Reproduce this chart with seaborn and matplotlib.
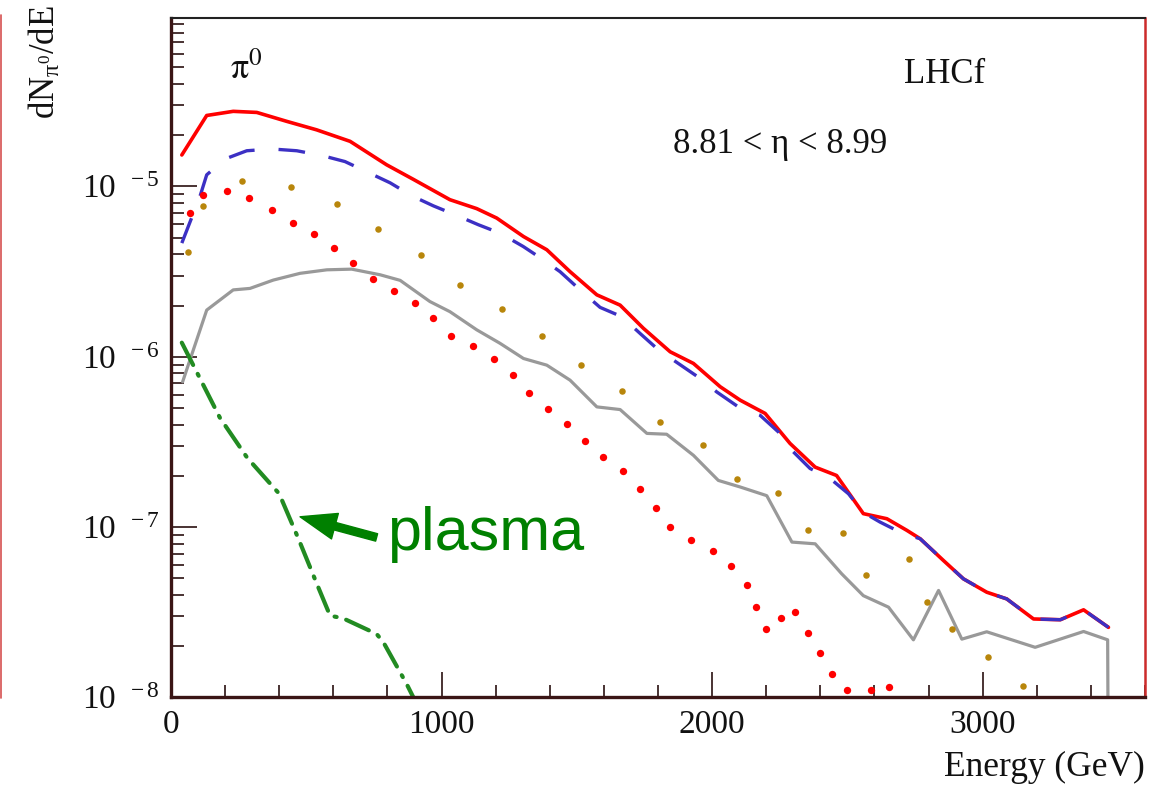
import numpy as np
import matplotlib
matplotlib.use("Agg")
import matplotlib.pyplot as plt
import seaborn as sns
from matplotlib.ticker import FixedLocator, MultipleLocator, LogLocator, NullFormatter, FuncFormatter
from matplotlib.lines import Line2D

# ---------------- data ----------------
# total (red solid)
total_E = [40, 132, 230, 317, 428, 538, 662, 797, 896, 1031, 1130, 1204, 1303, 1389,
           1475, 1574, 1660, 1746, 1845, 1931, 2030, 2104, 2196, 2288, 2381, 2460,
           2559, 2646, 2720, 2769, 2855, 2929, 3015, 3089, 3188, 3287, 3373, 3465]
total_val = [1.53e-5, 2.61e-5, 2.76e-5, 2.72e-5, 2.41e-5, 2.15e-5, 1.84e-5, 1.34e-5,
             1.10e-5, 8.36e-6, 7.41e-6, 6.52e-6, 5.08e-6, 4.25e-6, 3.16e-6, 2.31e-6,
             2.01e-6, 1.47e-6, 1.07e-6, 9.14e-7, 6.67e-7, 5.56e-7, 4.65e-7, 3.10e-7,
             2.25e-7, 2.01e-7, 1.20e-7, 1.12e-7, 9.57e-8, 8.55e-8, 6.37e-8, 4.97e-8,
             4.15e-8, 3.79e-8, 2.89e-8, 2.86e-8, 3.27e-8, 2.58e-8]

# blue dashed
blue_E = [40, 107, 132, 200, 280, 372, 465, 557, 643, 723, 810, 890, 970, 1050, 1136,
          1216, 1302, 1376, 1438, 1512, 1586, 1666, 1734, 1801, 1875, 1956, 2017, 2097,
          2177, 2245, 2295, 2362, 2436, 2504, 2559, 2621, 2707, 2769, 2855, 2929, 3015,
          3089, 3188, 3287, 3373, 3465]
blue_val = [4.65e-6, 8.73e-6, 1.17e-5, 1.45e-5, 1.62e-5, 1.66e-5, 1.62e-5, 1.52e-5,
            1.40e-5, 1.22e-5, 1.05e-5, 8.81e-6, 7.69e-6, 6.82e-6, 5.96e-6, 5.32e-6,
            4.44e-6, 3.71e-6, 3.16e-6, 2.47e-6, 1.95e-6, 1.72e-6, 1.37e-6, 1.10e-6,
            9.14e-7, 7.46e-7, 6.22e-7, 5.08e-7, 4.54e-7, 3.62e-7, 2.82e-7, 2.21e-7,
            1.93e-7, 1.57e-7, 1.22e-7, 1.07e-7, 9.14e-8, 8.55e-8, 6.37e-8, 4.97e-8,
            4.15e-8, 3.79e-8, 2.89e-8, 2.86e-8, 3.27e-8, 2.58e-8]

# red dotted
reddot_E = [70, 120, 206, 290, 372, 452, 529, 603, 674, 745, 826, 902, 970, 1035, 1118,
            1195, 1263, 1325, 1395, 1463, 1530, 1596, 1672, 1734, 1793, 1845, 1921, 2003,
            2070, 2128, 2163, 2200, 2254, 2308, 2354, 2399, 2442, 2498, 2587, 2652]
reddot_val = [6.97e-6, 8.93e-6, 9.35e-6, 8.55e-6, 7.29e-6, 6.14e-6, 5.25e-6, 4.38e-6,
              3.57e-6, 2.85e-6, 2.44e-6, 2.06e-6, 1.68e-6, 1.32e-6, 1.16e-6, 9.66e-7,
              7.80e-7, 6.10e-7, 4.97e-7, 4.02e-7, 3.21e-7, 2.58e-7, 2.14e-7, 1.68e-7,
              1.30e-7, 1.00e-7, 8.43e-8, 7.29e-8, 5.90e-8, 4.58e-8, 3.39e-8, 2.52e-8,
              2.93e-8, 3.19e-8, 2.39e-8, 1.82e-8, 1.37e-8, 1.10e-8, 1.10e-8, 1.15e-8]

# gold dotted
gold_E = [63, 119, 261, 442, 613, 766, 923, 1068, 1222, 1373, 1515, 1666, 1808, 1966,
          2091, 2245, 2356, 2483, 2569, 2726, 2794, 2886, 3018, 3149]
gold_val = [4.15e-6, 7.69e-6, 1.07e-5, 9.91e-6, 7.91e-6, 5.64e-6, 3.96e-6, 2.64e-6,
            1.90e-6, 1.33e-6, 8.93e-7, 6.31e-7, 4.15e-7, 3.03e-7, 1.91e-7, 1.58e-7,
            9.68e-8, 9.23e-8, 5.27e-8, 6.46e-8, 3.63e-8, 2.52e-8, 1.73e-8, 1.16e-8]

# grey solid
grey_E = [43, 132, 230, 292, 378, 477, 576, 668, 773, 847, 957, 1031, 1130, 1216, 1303,
          1389, 1475, 1574, 1660, 1759, 1832, 1931, 2023, 2104, 2202, 2295, 2381, 2479,
          2559, 2652, 2744, 2837, 2923, 3015, 3194, 3373, 3462, 3466]
grey_val = [7.13e-7, 1.88e-6, 2.47e-6, 2.52e-6, 2.82e-6, 3.09e-6, 3.24e-6, 3.27e-6,
            3.03e-6, 2.81e-6, 2.11e-6, 1.84e-6, 1.44e-6, 1.20e-6, 9.77e-7, 8.93e-7,
            7.29e-7, 5.08e-7, 4.90e-7, 3.55e-7, 3.51e-7, 2.64e-7, 1.88e-7, 1.72e-7,
            1.53e-7, 8.17e-8, 7.98e-8, 5.32e-8, 3.96e-8, 3.39e-8, 2.18e-8, 4.25e-8,
            2.20e-8, 2.43e-8, 1.97e-8, 2.44e-8, 2.18e-8, 1.0e-9]

# green dash-dot (plasma)
plasma_E = [40, 101, 181, 282, 400, 471, 539, 588, 635, 760, 785, 871, 896, 920]
plasma_val = [1.21e-6, 7.80e-7, 4.38e-7, 2.55e-7, 1.57e-7, 8.55e-8, 4.65e-8, 3.02e-8,
              2.92e-8, 2.36e-8, 2.11e-8, 1.20e-8, 1.00e-8, 7.5e-9]

x_major_ticks = [0, 1000, 2000, 3000]
x_tick_labels = ["0", "1000", "2000", "3000"]

# ---------------- style ----------------
sns.set_style("ticks")
plt.rcParams["font.family"] = ["Liberation Serif", "DejaVu Serif"]
plt.rcParams["mathtext.fontset"] = "stix"
plt.rcParams["axes.unicode_minus"] = False

fig = plt.figure(figsize=(11.68, 7.85), dpi=100)
ax = fig.add_axes([0.1464, 0.1115, 0.8339, 0.8656])
ax.set_yscale("log")

# curves
sns.lineplot(x=grey_E, y=grey_val, ax=ax, color="#999999", linewidth=2.3, sort=False)
sns.scatterplot(x=gold_E, y=gold_val, ax=ax, color="#b8860b", s=22, linewidth=0, zorder=3)
sns.scatterplot(x=reddot_E, y=reddot_val, ax=ax, color="#ff0000", s=28, linewidth=0, zorder=3)
sns.lineplot(x=plasma_E, y=plasma_val, ax=ax, color="#228b22", linewidth=3.0, sort=False,
             linestyle=(0, (6.0, 2.4, 0.5, 2.4)), dash_capstyle="round")
sns.lineplot(x=total_E, y=total_val, ax=ax, color="#ff0000", linewidth=2.6, sort=False)
sns.lineplot(x=blue_E, y=blue_val, ax=ax, color="#3c30c4", linewidth=2.4, sort=False,
             linestyle=(0, (8, 7.2)))

# axes ranges / ticks
ax.set_xlim(0, 3600)
ax.set_ylim(1e-8, 9.75e-5)
ax.xaxis.set_major_locator(FixedLocator(x_major_ticks))
ax.set_xticklabels(x_tick_labels)
ax.xaxis.set_minor_locator(MultipleLocator(200))
ax.yaxis.set_major_locator(LogLocator(base=10, numticks=12))
ax.yaxis.set_minor_locator(LogLocator(base=10, subs=np.arange(2, 10), numticks=12))
ax.yaxis.set_minor_formatter(NullFormatter())
ax.yaxis.set_major_formatter(FuncFormatter(
    lambda v, p: r"$\mathregular{10^{\ \ %d}}$" % int(round(np.log10(v)))))

tick_col = "#2a1010"
ax.tick_params(axis="both", which="both", direction="in", color=tick_col,
               top=False, right=False, labelsize=24, labelcolor="#111111")
ax.tick_params(axis="x", which="major", length=18, width=1.2, pad=9)
ax.tick_params(axis="x", which="minor", length=9, width=1.2)
ax.tick_params(axis="y", which="major", length=19, width=1.2, pad=8)
ax.tick_params(axis="y", which="minor", length=9.5, width=1.2)

for side in ("left", "bottom"):
    ax.spines[side].set_color("#3a1515")
    ax.spines[side].set_linewidth(2.4)
ax.spines["top"].set_color("#222222")
ax.spines["top"].set_linewidth(1.5)
ax.spines["right"].set_color("#cc2b2b")
ax.spines["right"].set_linewidth(1.8)

# axis titles
ax.set_xlabel("Energy (GeV)", fontsize=25.5, loc="right", color="#111111")
ax.xaxis.set_label_coords(1.0, -0.078)
ax.set_ylabel(r"$\mathregular{dN_{\pi^{0}}/dE}$", fontsize=25, loc="top", color="#111111")
ax.yaxis.set_label_coords(-0.111, 1.019)

# annotations
ax.text(277, 4.85e-5, r"$\mathrm{\pi}^{0}$", fontsize=26, ha="center", va="center",
        color="#111111")
ax.text(2858, 4.52e-5, "LHCf", fontsize=25, ha="center", va="center", color="#111111")
ax.text(2251, 1.76e-5, "8.81 < η < 8.99", fontsize=25, ha="center", va="center",
        color="#111111")
ax.text(798, 7.38e-8, "plasma", fontsize=44, ha="left", va="baseline", color="#008000",
        family=["Liberation Sans", "DejaVu Sans"])
ax.annotate("", xy=(477, 1.15e-7), xytext=(760, 8.7e-8),
            arrowprops=dict(facecolor="#008000", edgecolor="#008000", width=5.5,
                            headwidth=19, headlength=26, shrink=0))

# thin red frame remnant on the left image edge
fig.add_artist(Line2D([0.0012, 0.0012], [1 - 15 / 785, 1 - 698 / 785],
                      transform=fig.transFigure, color="#d65050", linewidth=1.2))

fig.savefig("out.png", dpi=100)
